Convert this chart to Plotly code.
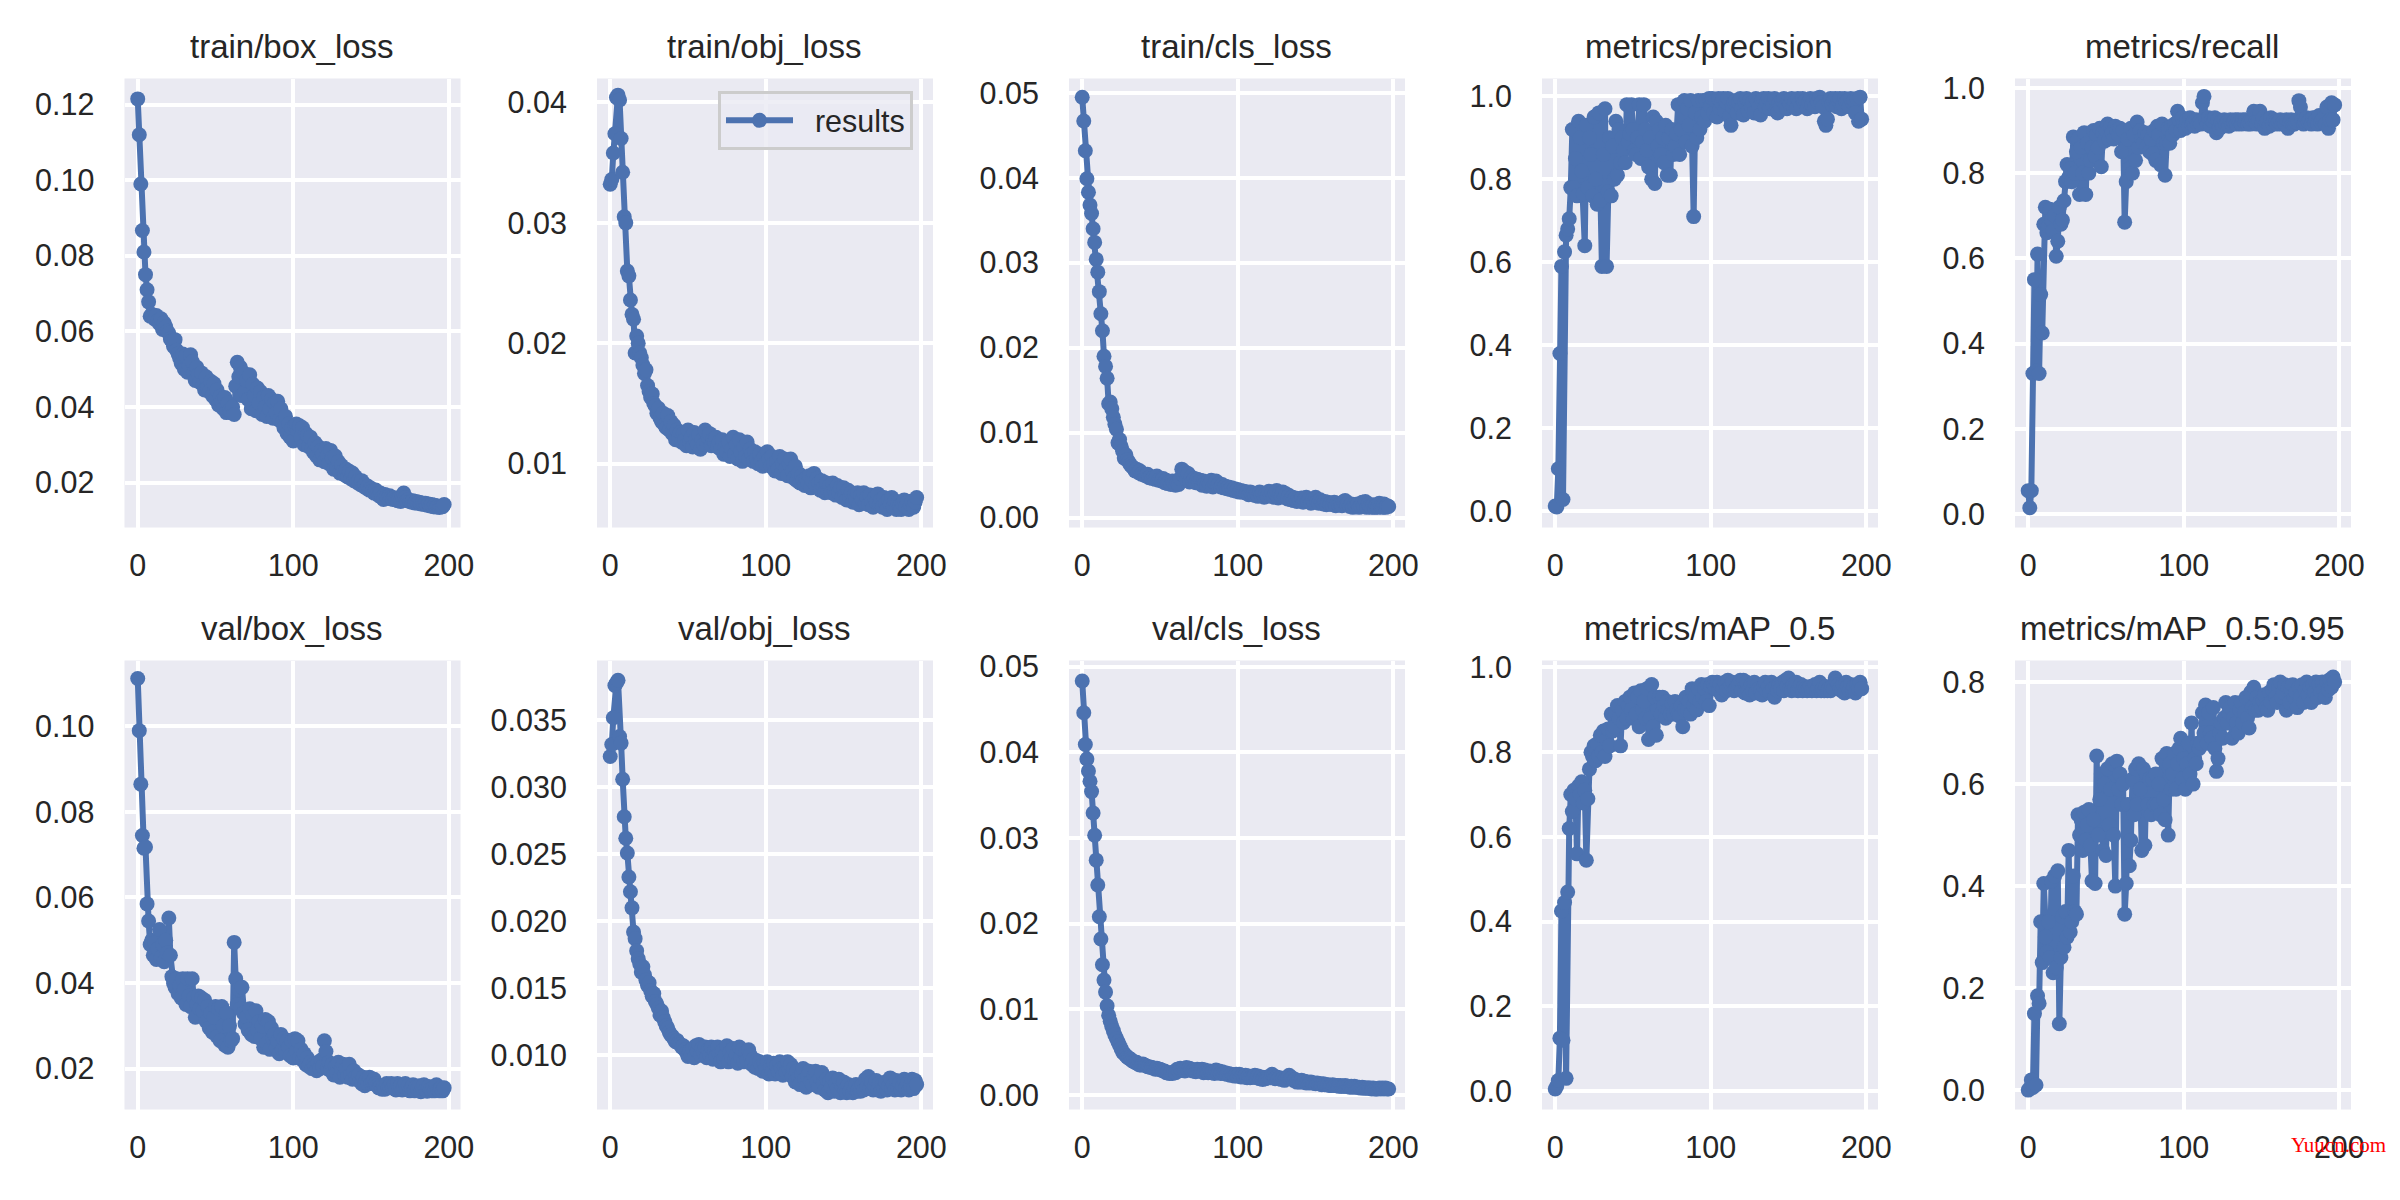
"""YOLOv5 style training results, 2 x 5 panels"""
from plotly.subplots import make_subplots
import plotly.graph_objs as go

titles = [
    'train/box_loss', 'train/obj_loss', 'train/cls_loss', 'metrics/precision', 'metrics/recall',
    'val/box_loss', 'val/obj_loss', 'val/cls_loss', 'metrics/mAP_0.5', 'metrics/mAP_0.5:0.95',
]

train_box = [
    .1215, .1120, .0990, .0867, .0810, .0750, .0710, .0678, .0640, .0645,
    .0638, .0632, .0642, .0628, .0620, .0633, .0605, .0622, .0612, .0600,
    .0595, .0580, .0575, .0560, .0578, .0550, .0540, .0528, .0515, .0540,
    .0500, .0535, .0492, .0510, .0538, .0520, .0490, .0470, .0505, .0485,
    .0465, .0490, .0460, .0445, .0480, .0450, .0440, .0468, .0430, .0462,
    .0420, .0445, .0405, .0428, .0415, .0395, .0425, .0385, .0410, .0390,
    .0385, .0400, .0380, .0455, .0518, .0480, .0505, .0430, .0490, .0440,
    .0470, .0420, .0485, .0395, .0460, .0430, .0390, .0450, .0410, .0440,
    .0380, .0425, .0400, .0375, .0430, .0395, .0420, .0370, .0410, .0385,
    .0415, .0365, .0395, .0360, .0345, .0375, .0330, .0355, .0320, .0345,
    .0310, .0350, .0355, .0335, .0350, .0320, .0345, .0300, .0330, .0325,
    .0295, .0320, .0290, .0280, .0305, .0270, .0295, .0260, .0285, .0275,
    .0255, .0290, .0270, .0250, .0285, .0265, .0235, .0270, .0240, .0255,
    .0225, .0245, .0230, .0220, .0235, .0215, .0230, .0210, .0225, .0205,
    .0215, .0200, .0205, .0195, .0205, .0190, .0195, .0185, .0190, .0180,
    .0185, .0178, .0172, .0180, .0170, .0165, .0172, .0160, .0155, .0168,
    .0162, .0158, .0165, .0160, .0155, .0160, .0155, .0152, .0158, .0150,
    .0165, .0172, .0160, .0152, .0155, .0150, .0148, .0152, .0146, .0150,
    .0145, .0148, .0143, .0146, .0142, .0145, .0140, .0143, .0138, .0142,
    .0136, .0140, .0135, .0138, .0134, .0137, .0136, .0142,
]
train_obj = [
    .0332, .0336, .0358, .0374, .0404, .0406, .0402, .0370, .0342, .0305,
    .0300, .0260, .0256, .0236, .0224, .0220, .0192, .0206, .0200, .0192,
    .0188, .0182, .0175, .0178, .0165, .0160, .0155, .0158, .0150, .0148,
    .0142, .0146, .0138, .0135, .0142, .0132, .0130, .0140, .0128, .0135,
    .0125, .0132, .0120, .0128, .0122, .0126, .0118, .0125, .0120, .0115,
    .0128, .0118, .0122, .0114, .0126, .0120, .0116, .0124, .0112, .0120,
    .0116, .0128, .0118, .0122, .0125, .0115, .0120, .0118, .0122, .0114,
    .0118, .0112, .0120, .0108, .0114, .0110, .0118, .0106, .0112, .0122,
    .0108, .0116, .0104, .0120, .0110, .0102, .0114, .0106, .0118, .0104,
    .0112, .0108, .0102, .0110, .0104, .0100, .0108, .0102, .0098, .0106,
    .0100, .0110, .0104, .0098, .0106, .0100, .0094, .0102, .0096, .0106,
    .0092, .0100, .0104, .0096, .0090, .0100, .0104, .0094, .0088, .0098,
    .0086, .0092, .0084, .0090, .0086, .0082, .0088, .0084, .0090, .0080,
    .0086, .0092, .0082, .0088, .0084, .0078, .0086, .0080, .0076, .0084,
    .0078, .0082, .0076, .0084, .0078, .0074, .0082, .0076, .0080, .0072,
    .0080, .0074, .0070, .0078, .0072, .0076, .0068, .0074, .0070, .0076,
    .0066, .0074, .0070, .0076, .0067, .0072, .0066, .0074, .0068, .0064,
    .0072, .0068, .0075, .0066, .0070, .0064, .0072, .0067, .0062, .0070,
    .0066, .0072, .0064, .0069, .0062, .0068, .0065, .0062, .0067, .0070,
    .0064, .0068, .0062, .0066, .0069, .0064, .0068, .0072,
]
train_cls = [
    .0495, .0467, .0432, .0399, .0383, .0368, .0358, .0340, .0324, .0304,
    .0289, .0266, .0240, .0220, .0190, .0178, .0164, .0134, .0136, .0128,
    .0118, .0110, .0104, .0088, .0092, .0084, .0078, .0070, .0074, .0068,
    .0065, .0062, .0060, .0058, .0055, .0057, .0053, .0055, .0051, .0052,
    .0050, .0049, .0051, .0047, .0048, .0046, .0047, .0045, .0049, .0044,
    .0045, .0043, .0046, .0041, .0044, .0040, .0042, .0039, .0043, .0040,
    .0038, .0041, .0039, .0046, .0057, .0050, .0054, .0044, .0052, .0042,
    .0048, .0043, .0046, .0041, .0045, .0042, .0044, .0038, .0043, .0040,
    .0037, .0042, .0039, .0044, .0036, .0041, .0043, .0038, .0040, .0036,
    .0039, .0035, .0037, .0034, .0036, .0033, .0035, .0032, .0034, .0031,
    .0033, .0030, .0032, .0030, .0031, .0029, .0030, .0027, .0030, .0028,
    .0029, .0026, .0028, .0025, .0030, .0026, .0029, .0024, .0028, .0025,
    .0031, .0026, .0030, .0024, .0029, .0032, .0023, .0028, .0025, .0030,
    .0024, .0028, .0022, .0026, .0021, .0024, .0020, .0023, .0019, .0022,
    .0020, .0023, .0018, .0021, .0024, .0019, .0022, .0017, .0021, .0018,
    .0024, .0019, .0017, .0021, .0018, .0016, .0019, .0015, .0018, .0016,
    .0017, .0015, .0018, .0014, .0017, .0015, .0016, .0014, .0019, .0020,
    .0015, .0017, .0013, .0016, .0012, .0015, .0013, .0016, .0012, .0014,
    .0018, .0013, .0019, .0012, .0016, .0013, .0012, .0015, .0012, .0014,
    .0012, .0017, .0013, .0012, .0016, .0012, .0014, .0013,
]
precision = [
    .012, .010, .102, .380, .590, .028, .625, .665, .680, .705,
    .780, .920, .780, .850, .760, .940, .900, .820, .765, .640,
    .930, .780, .900, .860, .760, .950, .800, .740, .960, .750,
    .590, .860, .970, .590, .770, .900, .760, .880, .800, .940,
    .810, .920, .840, .900, .870, .840, .980, .890, .910, .980,
    .920, .870, .860, .900, .980, .850, .890, .980, .920, .870,
    .830, .900, .800, .950, .790, .940, .880, .920, .860, .900,
    .840, .930, .810, .900, .810, .920, .860, .880, .910, .980,
    .860, .920, .950, .990, .890, .970, .930, .990, .880, .710,
    .960, .900, .990, .920, .950, .990, .940, .990, .960, .995,
    .975, .995, .960, .990, .950, .995, .970, .985, .995, .965,
    .985, .995, .950, .930, .975, .985, .990, .960, .985, .995,
    .970, .955, .985, .995, .965, .990, .975, .985, .960, .995,
    .985, .975, .955, .990, .995, .975, .985, .995, .970, .990,
    .980, .995, .965, .960, .985, .975, .990, .995, .975, .970,
    .990, .980, .995, .975, .985, .970, .995, .985, .975, .995,
    .985, .990, .970, .985, .995, .980, .990, .975, .995, .985,
    .998, .985, .975, .940, .930, .945, .985, .995, .980, .990,
    .995, .975, .990, .995, .970, .980, .995, .985, .990, .975,
    .995, .985, .990, .960, .995, .940, .998, .945,
]
recall = [
    .055, .015, .055, .330, .550, .335, .610, .330, .515, .425,
    .680, .720, .660, .675, .715, .690, .665, .700, .605, .640,
    .720, .680, .690, .735, .780, .820, .790, .810, .780, .885,
    .800, .850, .880, .750, .860, .800, .895, .750, .870, .800,
    .830, .860, .900, .840, .890, .860, .905, .815, .895, .875,
    .900, .915, .880, .910, .895, .880, .910, .900, .890, .905,
    .850, .900, .685, .780, .880, .810, .905, .800, .890, .830,
    .920, .860, .900, .880, .870, .895, .860, .890, .850, .880,
    .845, .900, .830, .910, .890, .820, .915, .870, .795, .870,
    .905, .870, .910, .890, .915, .900, .945, .925, .900, .930,
    .915, .905, .925, .910, .930, .915, .920, .910, .925, .915,
    .920, .915, .965, .980, .925, .915, .930, .910, .925, .920,
    .930, .895, .925, .905, .920, .910, .925, .915, .920, .910,
    .925, .915, .920, .925, .915, .925, .920, .915, .925, .920,
    .925, .915, .920, .915, .925, .945, .920, .915, .925, .945,
    .915, .930, .905, .920, .925, .910, .930, .915, .925, .920,
    .915, .920, .925, .915, .920, .915, .925, .905, .920, .925,
    .915, .915, .920, .925, .970, .955, .925, .915, .920, .930,
    .920, .925, .915, .930, .920, .925, .915, .935, .920, .925,
    .930, .915, .955, .905, .925, .965, .925, .960,
]
val_box = [
    .1112, .0990, .0865, .0745, .0715, .0718, .0585, .0545, .0490, .0500,
    .0465, .0495, .0455, .0480, .0525, .0460, .0490, .0450, .0500, .0470,
    .0552, .0465, .0415, .0400, .0390, .0410, .0375, .0395, .0365, .0410,
    .0385, .0350, .0410, .0370, .0345, .0410, .0365, .0320, .0350, .0370,
    .0340, .0365, .0335, .0360, .0310, .0345, .0295, .0330, .0285, .0320,
    .0345, .0275, .0340, .0265, .0345, .0300, .0255, .0330, .0250, .0300,
    .0265, .0270, .0495, .0410, .0350, .0385, .0340, .0390, .0330, .0305,
    .0320, .0290, .0340, .0280, .0325, .0275, .0335, .0290, .0310, .0270,
    .0300, .0250, .0315, .0260, .0310, .0245, .0295, .0270, .0280, .0250,
    .0265, .0235, .0280, .0245, .0270, .0240, .0265, .0250, .0230, .0265,
    .0225, .0270, .0240, .0265, .0225, .0245, .0220, .0235, .0210, .0225,
    .0205, .0215, .0200, .0210, .0205, .0195, .0215, .0200, .0220, .0205,
    .0265, .0240, .0200, .0215, .0195, .0210, .0185, .0205, .0190, .0215,
    .0180, .0200, .0210, .0185, .0200, .0180, .0210, .0185, .0175, .0195,
    .0180, .0175, .0185, .0170, .0165, .0180, .0160, .0175, .0165, .0180,
    .0165, .0170, .0175, .0165, .0160, .0155, .0158, .0152, .0158, .0152,
    .0165, .0155, .0160, .0165, .0155, .0162, .0150, .0165, .0155, .0160,
    .0150, .0158, .0165, .0152, .0160, .0148, .0155, .0162, .0148, .0158,
    .0152, .0160, .0146, .0155, .0162, .0150, .0147, .0158, .0150, .0148,
    .0155, .0148, .0162, .0150, .0148, .0155, .0148, .0155,
]
val_obj = [
    .0323, .0332, .0352, .0376, .0378, .0380, .0338, .0333, .0306, .0278,
    .0262, .0251, .0233, .0222, .0210, .0192, .0187, .0178, .0172, .0168,
    .0162, .0166, .0160, .0156, .0152, .0154, .0148, .0144, .0146, .0140,
    .0138, .0135, .0130, .0133, .0128, .0125, .0122, .0120, .0117, .0115,
    .0114, .0112, .0110, .0111, .0109, .0108, .0106, .0107, .0104, .0102,
    .0099, .0103, .0100, .0105, .0098, .0107, .0103, .0108, .0100, .0105,
    .0102, .0106, .0098, .0104, .0100, .0106, .0097, .0103, .0099, .0106,
    .0101, .0095, .0103, .0097, .0100, .0107, .0095, .0102, .0098, .0105,
    .0096, .0100, .0094, .0106, .0098, .0104, .0095, .0102, .0096, .0104,
    .0100, .0093, .0097, .0091, .0096, .0090, .0095, .0092, .0088, .0094,
    .0090, .0095, .0086, .0092, .0088, .0094, .0086, .0092, .0088, .0095,
    .0090, .0085, .0091, .0087, .0095, .0089, .0093, .0084, .0090, .0080,
    .0088, .0083, .0078, .0086, .0090, .0082, .0076, .0084, .0088, .0080,
    .0078, .0085, .0088, .0080, .0076, .0083, .0087, .0079, .0074, .0082,
    .0072, .0080, .0076, .0083, .0073, .0079, .0075, .0082, .0072, .0077,
    .0080, .0074, .0072, .0078, .0073, .0076, .0072, .0075, .0078, .0073,
    .0076, .0073, .0078, .0074, .0082, .0076, .0084, .0075, .0080, .0074,
    .0077, .0081, .0074, .0079, .0073, .0078, .0075, .0080, .0074, .0077,
    .0083, .0075, .0078, .0074, .0081, .0076, .0079, .0074, .0077, .0082,
    .0075, .0079, .0074, .0077, .0082, .0075, .0081, .0078,
]
val_cls = [
    .0483, .0446, .0409, .0392, .0378, .0366, .0354, .0329, .0303, .0274,
    .0245, .0208, .0182, .0152, .0134, .0120, .0104, .0093, .0086, .0080,
    .0075, .0070, .0066, .0062, .0058, .0054, .0050, .0048, .0046, .0044,
    .0043, .0042, .0040, .0039, .0038, .0038, .0036, .0035, .0035, .0036,
    .0035, .0034, .0033, .0033, .0032, .0032, .0031, .0030, .0031, .0030,
    .0030, .0029, .0028, .0028, .0026, .0026, .0025, .0026, .0025, .0027,
    .0026, .0030, .0028, .0031, .0029, .0030, .0028, .0032, .0029, .0031,
    .0030, .0028, .0029, .0027, .0030, .0029, .0028, .0030, .0026, .0029,
    .0027, .0026, .0028, .0026, .0027, .0025, .0029, .0026, .0028, .0025,
    .0027, .0025, .0026, .0024, .0025, .0023, .0024, .0023, .0022, .0024,
    .0022, .0024, .0021, .0023, .0021, .0023, .0020, .0022, .0020, .0021,
    .0021, .0023, .0020, .0022, .0019, .0021, .0018, .0020, .0019, .0021,
    .0021, .0020, .0024, .0022, .0019, .0021, .0019, .0020, .0018, .0019,
    .0017, .0019, .0021, .0023, .0019, .0020, .0017, .0018, .0015, .0016,
    .0015, .0017, .0015, .0016, .0014, .0015, .0014, .0015, .0014, .0014,
    .0013, .0014, .0013, .0013, .0012, .0013, .0012, .0012, .0012, .0011,
    .0011, .0012, .0011, .0011, .0011, .0010, .0011, .0010, .0010, .0011,
    .0010, .0010, .0009, .0010, .0009, .0010, .0009, .0009, .0009, .0008,
    .0009, .0008, .0008, .0008, .0008, .0008, .0007, .0008, .0007, .0007,
    .0007, .0008, .0007, .0008, .0007, .0008, .0007, .0007,
]
map_05 = [
    .005, .012, .025, .125, .425, .120, .445, .030, .470, .620,
    .700, .660, .710, .690, .560, .720, .700, .730, .680, .710,
    .545, .690, .760, .800, .790, .815, .780, .820, .790, .840,
    .800, .850, .790, .830, .855, .815, .890, .850, .860, .895,
    .910, .880, .815, .900, .870, .920, .880, .910, .930, .900,
    .880, .940, .890, .930, .860, .945, .900, .920, .880, .950,
    .830, .880, .960, .860, .930, .840, .900, .930, .890, .930,
    .910, .880, .920, .900, .890, .915, .890, .920, .900, .890,
    .885, .910, .860, .900, .930, .900, .920, .890, .950, .910,
    .930, .900, .950, .920, .960, .930, .950, .920, .960, .910,
    .955, .965, .960, .950, .965, .945, .960, .935, .950, .965,
    .945, .970, .950, .960, .965, .945, .950, .955, .960, .970,
    .945, .970, .940, .965, .945, .935, .960, .945, .965, .940,
    .960, .950, .945, .935, .955, .965, .945, .955, .940, .965,
    .950, .930, .955, .945, .960, .950, .965, .945, .970, .955,
    .975, .950, .945, .960, .950, .965, .945, .955, .960, .945,
    .955, .950, .945, .950, .955, .945, .950, .960, .945, .950,
    .965, .945, .950, .945, .955, .945, .950, .945, .955, .950,
    .975, .965, .960, .950, .945, .960, .940, .965, .955, .945,
    .960, .945, .955, .940, .960, .950, .965, .950,
]
map_095 = [
    .000, .003, .020, .005, .150, .010, .185, .170, .330, .250,
    .405, .300, .270, .330, .260, .410, .230, .420, .240, .430,
    .130, .260, .340, .280, .350, .300, .470, .310, .330, .420,
    .350, .345, .540, .500, .530, .470, .545, .490, .520, .550,
    .480, .410, .530, .405, .655, .500, .570, .620, .470, .600,
    .460, .630, .520, .590, .640, .500, .400, .645, .590, .620,
    .560, .600, .345, .405, .560, .440, .490, .610, .540, .630,
    .560, .640, .590, .470, .630, .480, .620, .560, .610, .540,
    .610, .560, .620, .560, .600, .540, .650, .570, .530, .660,
    .500, .640, .590, .620, .660, .590, .640, .670, .690, .610,
    .650, .590, .640, .680, .620, .720, .600, .650, .640, .680,
    .670, .680, .740, .700, .755, .680, .740, .700, .690, .750,
    .670, .625, .650, .700, .720, .690, .730, .760, .720, .740,
    .750, .690, .730, .760, .720, .700, .745, .760, .720, .740,
    .770, .730, .710, .780, .750, .790, .745, .770, .745, .760,
    .750, .765, .775, .750, .745, .780, .760, .785, .795, .770,
    .760, .790, .800, .770, .780, .795, .745, .790, .760, .785,
    .795, .770, .780, .750, .790, .770, .795, .760, .785, .800,
    .775, .790, .760, .795, .780, .800, .770, .795, .780, .800,
    .785, .770, .800, .785, .805, .790, .810, .800,
]

series = [train_box, train_obj, train_cls, precision, recall,
          val_box, val_obj, val_cls, map_05, map_095]

# y ranges and tick steps
y_ranges = [
    (0.0081, 0.1269), (0.00471, 0.04198), (-0.00117, 0.0517), (-0.0396, 1.043), (-0.0315, 1.022),
    (0.01044, 0.1154), (0.00594, 0.03947), (-0.0017, 0.0507), (-0.0435, 1.0165), (-0.038, 0.8424),
]
y_dticks = [0.02, 0.01, 0.01, 0.2, 0.2, 0.02, 0.005, 0.01, 0.2, 0.2]
y_formats = ['.2f', '.2f', '.2f', '.1f', '.1f', '.2f', '.3f', '.2f', '.1f', '.1f']

W, H = 2400, 1200
lefts = [124.5, 597, 1069, 1542, 2015]
panel_w = 336
tops = [78.5, 660.5]
panel_h = 449

BLUE = '#4C72B0'
INK = '#262626'
FONT = 'Liberation Sans'

fig = make_subplots(rows=2, cols=5)

for i, y in enumerate(series):
    row, col = i // 5 + 1, i % 5 + 1
    fig.add_trace(go.Scatter(
        x=list(range(len(y))), y=y,
        mode='lines+markers',
        # nbsp pads the gap between key and label
        name='\u00a0\u00a0results',
        showlegend=i == 1,
        line=dict(color=BLUE, width=6),
        marker=dict(color=BLUE, size=15),
    ), row=row, col=col)
    left, top = lefts[col - 1], tops[row - 1]
    fig.update_xaxes(
        domain=[left / W, (left + panel_w) / W],
        range=[-8.5, 207.5], tickvals=[0, 100, 200],
        showgrid=True, gridcolor='white', gridwidth=3.5,
        zeroline=False, showline=False, automargin=False,
        ticks='outside', ticklen=11, tickcolor='rgba(0,0,0,0)',
        tickfont=dict(family=FONT, size=30.5, color=INK),
        row=row, col=col,
    )
    fig.update_yaxes(
        domain=[1 - (top + panel_h) / H, 1 - top / H],
        range=y_ranges[i], dtick=y_dticks[i], tick0=0, tickformat=y_formats[i],
        showgrid=True, gridcolor='white', gridwidth=3.5,
        zeroline=False, showline=False, automargin=False,
        ticks='outside', ticklen=23, tickcolor='rgba(0,0,0,0)',
        tickfont=dict(family=FONT, size=30.5, color=INK),
        row=row, col=col,
    )
    fig.add_annotation(
        text=titles[i], showarrow=False,
        xref='paper', yref='paper',
        x=(left + panel_w / 2 - 1) / W, y=1 - (top - 11.5) / H,
        xanchor='center', yanchor='bottom',
        font=dict(family=FONT, size=33, color=INK),
    )

# site watermark in the corner of the picture
fig.add_annotation(
    text='Yuucn.com', showarrow=False,
    xref='paper', yref='paper', x=2338 / W, y=1 - 1145 / H,
    xanchor='center', yanchor='middle',
    font=dict(family='Liberation Serif', size=21, color='#FF0000'),
)

fig.update_layout(
    template='none',
    width=W, height=H,
    margin=dict(l=0, r=0, t=0, b=0),
    paper_bgcolor='white',
    plot_bgcolor='#EAEAF2',
    font=dict(family=FONT, color=INK),
    legend=dict(
        x=718 / W, y=1 - 91 / H, xanchor='left', yanchor='top',
        bgcolor='rgba(234,234,242,0.8)', bordercolor='#CCCCCC', borderwidth=3,
        itemwidth=67, entrywidth=118, entrywidthmode='pixels',
        font=dict(family=FONT, size=30.5, color=INK),
    ),
)

fig.write_html(
    "out.html",
    config=dict(displayModeBar=False),
    post_script="document.body.style.margin='0';",
)
